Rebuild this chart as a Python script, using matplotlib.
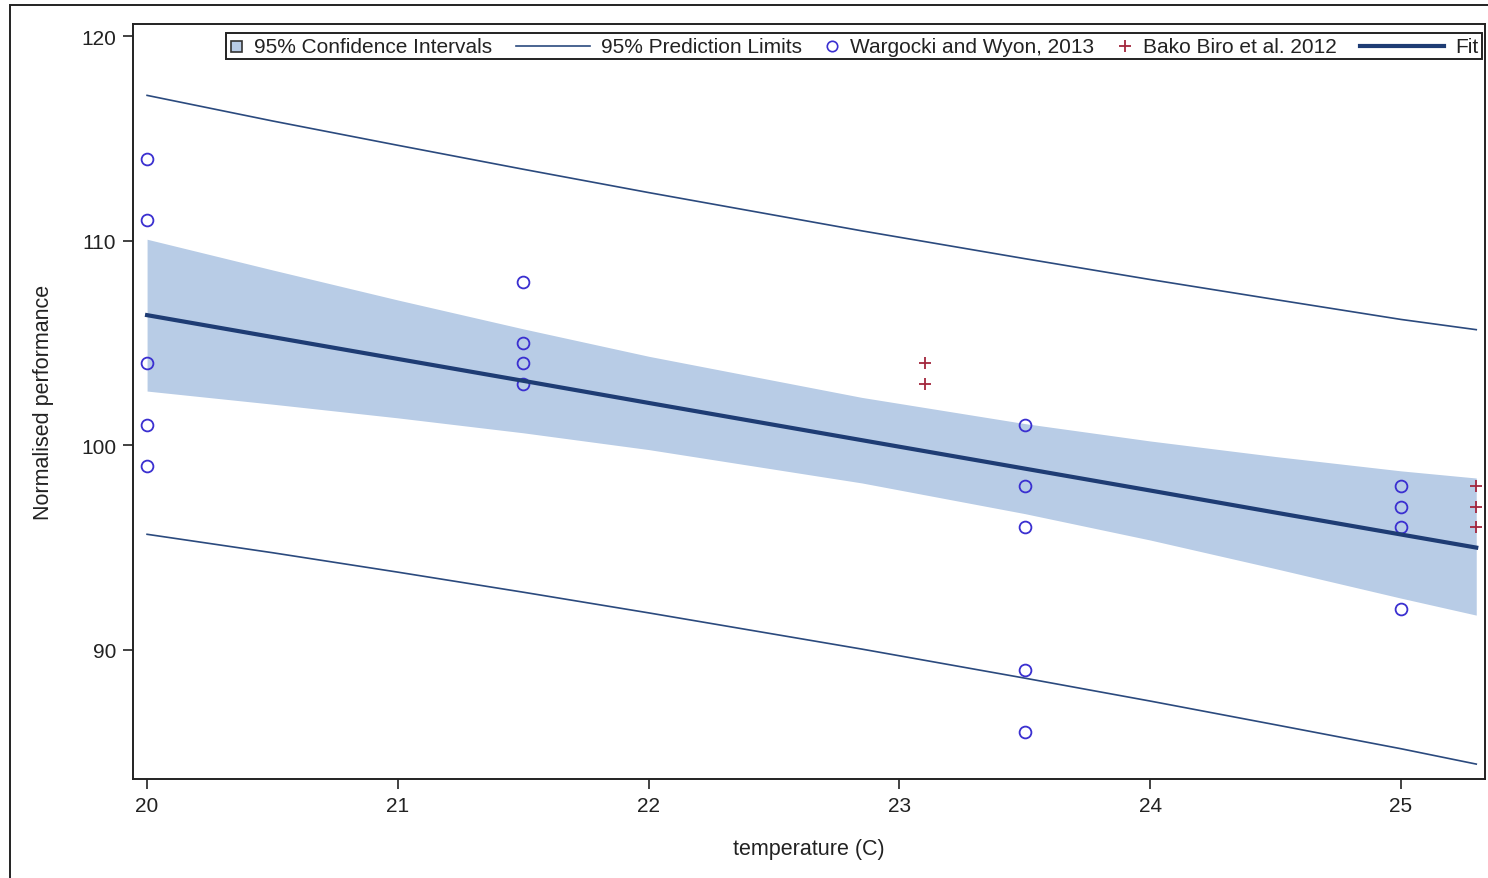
import numpy as np
import matplotlib
import matplotlib.pyplot as plt
from matplotlib.patches import Rectangle
from matplotlib.lines import Line2D
from matplotlib.offsetbox import DrawingArea, TextArea, HPacker, AnchoredOffsetbox

matplotlib.use('Agg')
plt.rcParams['font.family'] = ['Liberation Sans', 'DejaVu Sans']

# Observations
wargocki_temp = [20, 20, 20, 20, 20, 21.5, 21.5, 21.5, 21.5,
                 23.5, 23.5, 23.5, 23.5, 23.5, 25, 25, 25, 25]
wargocki_perf = [114, 111, 104, 101, 99, 108, 105, 104, 103,
                 101, 98, 96, 89, 86, 98, 97, 96, 92]
bako_temp = [23.1, 23.1, 25.3, 25.3, 25.3]
bako_perf = [104, 103, 98, 97, 96]

# Regression fit, confidence band and prediction limits
band_temp = [20, 20.5, 21, 21.5, 22, 22.85, 23.5, 24, 24.5, 25, 25.3]
fit = [106.36, 105.29, 104.22, 103.15, 102.07, 100.25, 98.86, 97.79, 96.71, 95.64, 95.00]
ci_upper = [110.07, 108.57, 107.10, 105.69, 104.35, 102.34, 101.06, 100.21, 99.45, 98.75, 98.40]
ci_lower = [102.65, 102.01, 101.34, 100.61, 99.79, 98.16, 96.66, 95.37, 93.97, 92.53, 91.70]
pi_upper = [117.10, 115.85, 114.66, 113.49, 112.35, 110.48, 109.12, 108.10, 107.12, 106.15, 105.65]
pi_lower = [95.65, 94.75, 93.80, 92.82, 91.81, 90.04, 88.62, 87.50, 86.34, 85.17, 84.42]

CI_COLOR = '#b8cce6'
PI_COLOR = '#2b4a7e'
CIRCLE_COLOR = '#3a2fd0'
PLUS_COLOR = '#a3263d'
FIT_COLOR = '#1e3c74'
INK = '#222222'

fig = plt.figure(figsize=(14.88, 8.79), dpi=100)
ax = fig.add_axes([0.0894, 0.1126, 0.9086, 0.859])

ax.fill_between(band_temp, ci_lower, ci_upper, color=CI_COLOR, lw=0)
ax.plot(band_temp, pi_upper, color=PI_COLOR, lw=1.2)
ax.plot(band_temp, pi_lower, color=PI_COLOR, lw=1.2)
ax.plot(wargocki_temp, wargocki_perf, 'o', mfc='none', mec=CIRCLE_COLOR, mew=1.3,
        ms=8.5, ls='none')
ax.plot(bako_temp, bako_perf, '+', color=PLUS_COLOR, mew=1.3, ms=9, ls='none')
ax.plot(band_temp, fit, color=FIT_COLOR, lw=3)

ax.set_xlim(19.944, 25.335)
ax.set_ylim(83.69, 120.59)
ax.set_xticks([20, 21, 22, 23, 24, 25])
ax.set_yticks([90, 100, 110, 120])
ax.tick_params(direction='out', length=7, width=1.2, labelsize=15,
               colors=INK, pad=5)
for side in ['left', 'bottom', 'top', 'right']:
    ax.spines[side].set_linewidth(1.4)
    ax.spines[side].set_color(INK)

ax.set_xlabel('temperature (C)', fontsize=15.5, color=INK, labelpad=17)
ax.set_ylabel('Normalised performance', fontsize=15.5, color=INK, labelpad=19.5)


# legend built by hand so each key can have its own width
def key(width, artist_fn):
    h = 14
    da = DrawingArea(width, h, 0, 0)
    for a in artist_fn(width, h):
        da.add_artist(a)
    return da


def square_key(w, h):
    s = 8
    return [Rectangle(((w - s) / 2, (h - s) / 2), s, s, facecolor=CI_COLOR,
                      edgecolor='#333333', lw=1.2)]


def line_key(color, lw):
    return lambda w, h: [Line2D([0, w], [h / 2, h / 2], color=color, lw=lw)]


def marker_key(marker, **kw):
    return lambda w, h: [Line2D([w / 2], [h / 2], marker=marker, ls='none', **kw)]


entries = [
    (key(10, square_key), '95% Confidence Intervals'),
    (key(53, line_key(PI_COLOR, 1.2)), '95% Prediction Limits'),
    (key(10, marker_key('o', mfc='none', mec=CIRCLE_COLOR, mew=1.2, ms=7.5)),
     'Wargocki and Wyon, 2013'),
    (key(10, marker_key('+', color=PLUS_COLOR, mew=1.3, ms=9)), 'Bako Biro et al. 2012'),
    (key(60, line_key(FIT_COLOR, 3)), 'Fit'),
]
boxes = []
for da, label in entries:
    ta = TextArea(label, textprops=dict(fontsize=15, color=INK))
    boxes.append(HPacker(children=[da, ta], sep=8, align='center'))
row = HPacker(children=boxes, sep=17, align='center')
legend = AnchoredOffsetbox(loc='upper right', child=row, pad=0.25, borderpad=0,
                           frameon=True, bbox_to_anchor=(0.9975, 0.988),
                           bbox_transform=ax.transAxes)
legend.patch.set_boxstyle('square', pad=0)
legend.patch.set_edgecolor(INK)
legend.patch.set_linewidth(1.4)
ax.add_artist(legend)

# outer frame around the graph area
fig.patches.append(Rectangle((10 / 1488, -0.1), 1.2, 1.1 - 6 / 879, fill=False,
                             lw=1.4, edgecolor=INK, transform=fig.transFigure))

fig.savefig('out.png', dpi=100)
